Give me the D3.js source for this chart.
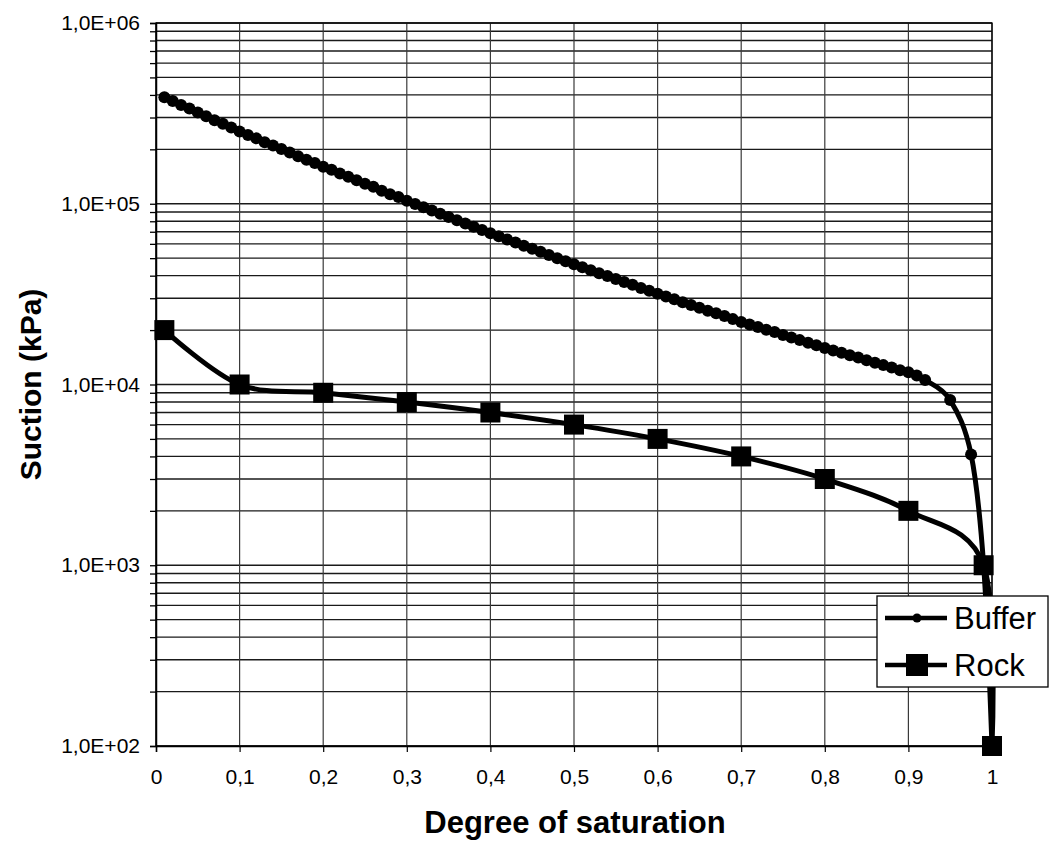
<!DOCTYPE html>
<html>
<head>
<meta charset="utf-8">
<script src="https://cdn.jsdelivr.net/npm/d3@7"></script>
<style>
  html, body { margin: 0; padding: 0; background: #fff; }
  svg { display: block; font-family: "Liberation Sans", Arial, sans-serif; }
</style>
</head>
<body>
<svg id="chart" width="1049" height="844"></svg>
<script>
// Degree of saturation (x) for the buffer curve
const bufferSat = [
  0.01, 0.02, 0.03, 0.04, 0.05, 0.06, 0.07, 0.08, 0.09, 0.10,
  0.11, 0.12, 0.13, 0.14, 0.15, 0.16, 0.17, 0.18, 0.19, 0.20,
  0.21, 0.22, 0.23, 0.24, 0.25, 0.26, 0.27, 0.28, 0.29, 0.30,
  0.31, 0.32, 0.33, 0.34, 0.35, 0.36, 0.37, 0.38, 0.39, 0.40,
  0.41, 0.42, 0.43, 0.44, 0.45, 0.46, 0.47, 0.48, 0.49, 0.50,
  0.51, 0.52, 0.53, 0.54, 0.55, 0.56, 0.57, 0.58, 0.59, 0.60,
  0.61, 0.62, 0.63, 0.64, 0.65, 0.66, 0.67, 0.68, 0.69, 0.70,
  0.71, 0.72, 0.73, 0.74, 0.75, 0.76, 0.77, 0.78, 0.79, 0.80,
  0.81, 0.82, 0.83, 0.84, 0.85, 0.86, 0.87, 0.88, 0.89, 0.90,
  0.91, 0.92, 0.95, 0.975, 0.99, 1.0
];
// Suction (kPa) for the buffer curve
const bufferSuction = [
  388000, 370000, 352000, 336000, 320000, 305000, 290000, 277000, 264000, 251000,
  240000, 230000, 219000, 210000, 201000, 192000, 183000, 175000, 168000, 160000,
  154000, 147000, 141000, 135000, 129000, 124000, 118000, 113000, 109000, 104000,
  99800, 95700, 91800, 88100, 84500, 81100, 77800, 74600, 71600, 68700,
  66000, 63500, 61000, 58600, 56400, 54200, 52100, 50000, 48100, 46200,
  44500, 42900, 41300, 39800, 38300, 36900, 35600, 34200, 33000, 31800,
  30700, 29600, 28500, 27500, 26600, 25600, 24800, 23900, 23000, 22200,
  21500, 20800, 20100, 19500, 18800, 18200, 17600, 17000, 16500, 15900,
  15400, 15000, 14500, 14100, 13600, 13200, 12800, 12400, 12000, 11700,
  11200, 10600, 8200, 4100, 1000, 100
];
// Rock curve
const rockSat = [0.01, 0.1, 0.2, 0.3, 0.4, 0.5, 0.6, 0.7, 0.8, 0.9, 0.99, 1.0];
const rockSuction = [20000, 10000, 9000, 8000, 7000, 6000, 5000, 4000, 3000, 2000, 1000, 100];

// Axis ticks
const xTicks = [0, 0.1, 0.2, 0.3, 0.4, 0.5, 0.6, 0.7, 0.8, 0.9, 1];
const yTicks = [1e2, 1e3, 1e4, 1e5, 1e6];
const seriesNames = ["Buffer", "Rock"];

const svg = d3.select("#chart");
const plot = { left: 156, right: 992, top: 23, bottom: 746 };

const x = d3.scaleLinear().domain([0, 1]).range([plot.left, plot.right]);
const y = d3.scaleLog().domain([1e2, 1e6]).range([plot.bottom, plot.top]);

const buffer = bufferSat.map((s, i) => ({ s, v: bufferSuction[i] }));
const rock = rockSat.map((s, i) => ({ s, v: rockSuction[i] }));

// Gridlines: every minor decade step horizontally, every 0.1 vertically
const yAll = y.ticks();
const grid = svg.append("g");
grid.selectAll("line.h").data(yAll).join("line")
  .attr("x1", plot.left).attr("x2", plot.right)
  .attr("y1", d => y(d)).attr("y2", d => y(d))
  .attr("stroke", "#1a1a1a").attr("stroke-width", 1.3);
grid.selectAll("line.v").data(xTicks).join("line")
  .attr("x1", d => x(d)).attr("x2", d => x(d))
  .attr("y1", plot.top).attr("y2", plot.bottom)
  .attr("stroke", "#3a3a3a").attr("stroke-width", 1.2);

// Y axis with minor ticks, labels only at decades
const fmtY = d => {
  const e = Math.round(Math.log10(d));
  return yTicks.includes(d) ? "1,0E+" + String(e).padStart(2, "0") : "";
};
const yAxis = svg.append("g")
  .attr("transform", `translate(${plot.left},0)`)
  .call(d3.axisLeft(y).tickValues(yAll).tickFormat(fmtY).tickSize(6).tickPadding(10));
yAxis.selectAll("text").attr("font-size", 21).attr("fill", "#000")
  .attr("font-family", "'Liberation Sans', Arial, sans-serif");
yAxis.selectAll("line").attr("stroke", "#000").attr("stroke-width", 1.3);
yAxis.select(".domain").attr("stroke", "#000").attr("stroke-width", 1.5);

// X axis
const xAxis = svg.append("g")
  .attr("transform", `translate(0,${plot.bottom})`)
  .call(d3.axisBottom(x).tickValues(xTicks)
    .tickFormat(d => String(d).replace(".", ",")).tickSize(6).tickPadding(17));
xAxis.selectAll("text").attr("font-size", 21).attr("fill", "#000")
  .attr("font-family", "'Liberation Sans', Arial, sans-serif");
xAxis.selectAll("line").attr("stroke", "#000").attr("stroke-width", 1.2);
xAxis.select(".domain").attr("stroke", "#000").attr("stroke-width", 1.5);

// Plot frame (top and right edges)
svg.append("rect")
  .attr("x", plot.left).attr("y", plot.top)
  .attr("width", plot.right - plot.left).attr("height", plot.bottom - plot.top)
  .attr("fill", "none").attr("stroke", "#000").attr("stroke-width", 1.3);

// Smoothed curves
const line = d3.line()
  .x(d => x(d.s)).y(d => y(d.v))
  .curve(d3.curveCardinal.tension(0));

svg.append("path").datum(buffer)
  .attr("d", line).attr("fill", "none")
  .attr("stroke", "#000").attr("stroke-width", 5);
svg.append("g").selectAll("circle").data(buffer).join("circle")
  .attr("cx", d => x(d.s)).attr("cy", d => y(d.v)).attr("r", 6)
  .attr("fill", "#000");

svg.append("path").datum(rock)
  .attr("d", line).attr("fill", "none")
  .attr("stroke", "#000").attr("stroke-width", 5);
const sq = 20;
svg.append("g").selectAll("rect").data(rock).join("rect")
  .attr("x", d => x(d.s) - sq / 2).attr("y", d => y(d.v) - sq / 2)
  .attr("width", sq).attr("height", sq).attr("fill", "#000");

// Axis titles
svg.append("text")
  .attr("x", (plot.left + plot.right) / 2 + 1).attr("y", 833)
  .attr("text-anchor", "middle").attr("font-weight", "bold")
  .attr("font-size", 31).attr("fill", "#000")
  .text("Degree of saturation");
svg.append("text")
  .attr("transform", `translate(41,${(plot.top + plot.bottom) / 2}) rotate(-90)`)
  .attr("text-anchor", "middle").attr("font-weight", "bold")
  .attr("font-size", 30).attr("fill", "#000")
  .text("Suction (kPa)");

// Legend
const lg = svg.append("g");
lg.append("rect").attr("x", 877).attr("y", 596).attr("width", 171).attr("height", 91)
  .attr("fill", "#fff").attr("stroke", "#000").attr("stroke-width", 1.3);
const rows = [618, 665];
rows.forEach((ry, i) => {
  lg.append("line").attr("x1", 885).attr("x2", 947).attr("y1", ry).attr("y2", ry)
    .attr("stroke", "#000").attr("stroke-width", 4.5);
  if (i === 0) {
    lg.append("circle").attr("cx", 917).attr("cy", ry).attr("r", 4.5).attr("fill", "#000");
  } else {
    lg.append("rect").attr("x", 917 - 11).attr("y", ry - 11).attr("width", 22).attr("height", 22)
      .attr("fill", "#000");
  }
  lg.append("text").attr("x", 954).attr("y", ry + 11)
    .attr("font-size", 31).attr("fill", "#000").text(seriesNames[i]);
});
</script>
</body>
</html>
